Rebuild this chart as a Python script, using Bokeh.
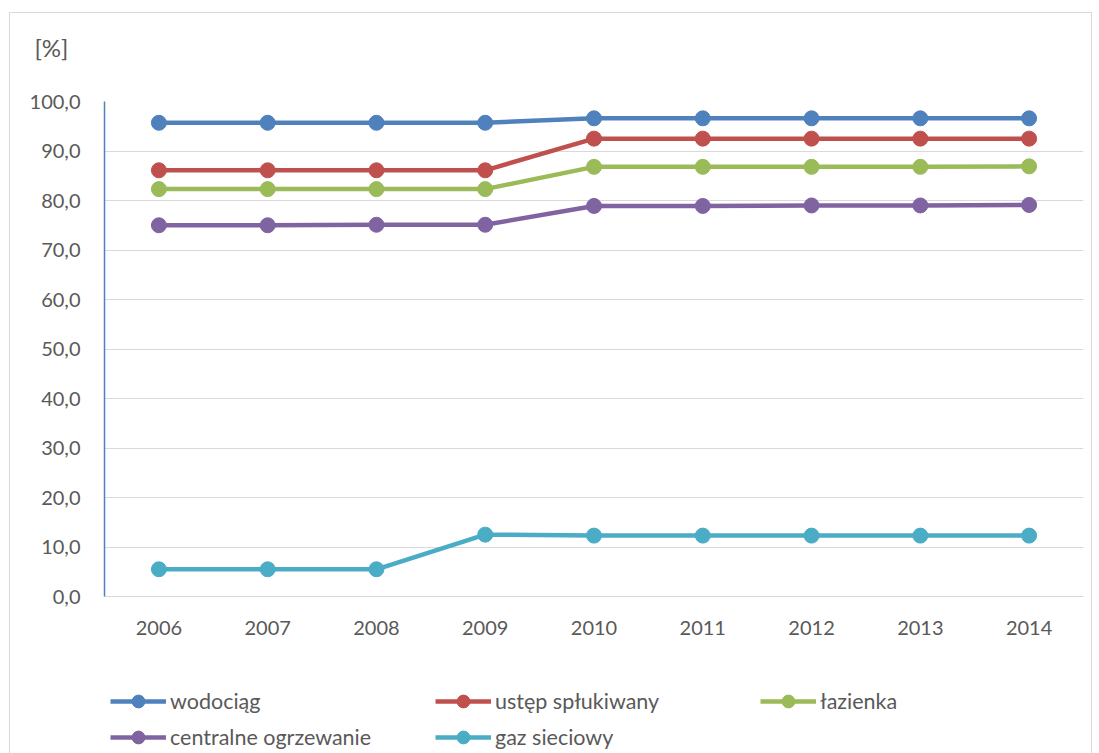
from bokeh.plotting import figure
from bokeh.models import (FactorRange, Range1d, FixedTicker, Legend, LegendItem,
                          Title)
from bokeh.embed import file_html
from bokeh.resources import INLINE

years = ["2006", "2007", "2008", "2009", "2010", "2011", "2012", "2013", "2014"]
wodociag = [95.7, 95.7, 95.7, 95.7, 96.6, 96.6, 96.6, 96.6, 96.6]
ustep = [86.1, 86.1, 86.1, 86.1, 92.5, 92.5, 92.5, 92.5, 92.5]
lazienka = [82.3, 82.3, 82.3, 82.3, 86.8, 86.8, 86.8, 86.8, 86.9]
centralne = [75.0, 75.0, 75.1, 75.1, 78.9, 78.9, 79.0, 79.0, 79.1]
gaz = [5.5, 5.5, 5.5, 12.5, 12.3, 12.3, 12.3, 12.3, 12.3]

series_names = ["wodociąg", "ustęp spłukiwany", "łazienka",
                "centralne ogrzewanie", "gaz sieciowy"]
series_values = [wodociag, ustep, lazienka, centralne, gaz]
colors = ["#4F81BD", "#C0504D", "#9BBB59", "#8064A2", "#4BACC6"]

y_ticks = [0, 10, 20, 30, 40, 50, 60, 70, 80, 90, 100]
y_tick_labels = ["0,0", "10,0", "20,0", "30,0", "40,0", "50,0",
                 "60,0", "70,0", "80,0", "90,0", "100,0"]
unit_label = "[%]"

FONT = "Lato"
TXT = "#595959"

# layout: the data area (0..100) is 495 px tall; the frame continues below it
# to hold the category labels and the legend
PLOT_H = 495
FRAME_H = 652
y_start = -(FRAME_H - PLOT_H) * 100.0 / PLOT_H

p = figure(frame_width=979, frame_height=FRAME_H, x_range=FactorRange(*years),
           y_range=Range1d(y_start, 100), output_backend="svg",
           toolbar_location=None,
           min_border_left=94, min_border_right=8,
           min_border_top=88, min_border_bottom=0)
p.styles = {"border": "1px solid #d9d9d9", "border-bottom": "none",
            "margin-left": "9px", "margin-top": "12px"}
p.outline_line_color = None
p.background_fill_color = "white"

items = []
for name, vals, col in zip(series_names, series_values, colors):
    r1 = p.line(years, vals, line_color=col, line_width=4.5)
    r2 = p.scatter(years, vals, fill_color=col, line_color=col, size=15)
    items.append(LegendItem(label=name, renderers=[r1, r2]))

p.yaxis.ticker = FixedTicker(ticks=y_ticks)
p.yaxis.bounds = (0, 100)
p.yaxis.major_label_overrides = {t: l for t, l in zip(y_ticks, y_tick_labels)}
p.yaxis.axis_line_color = "#4F81BD"
p.yaxis.axis_line_width = 1.5
p.yaxis.major_tick_line_color = None
p.yaxis.minor_tick_line_color = None
p.yaxis.major_label_standoff = 18
p.yaxis.major_label_text_font = FONT
p.yaxis.major_label_text_font_size = "20px"
p.yaxis.major_label_text_color = TXT

p.xaxis.fixed_location = 0
p.xaxis.axis_line_color = "#d9d9d9"
p.xaxis.major_tick_line_color = None
p.xaxis.minor_tick_line_color = None
p.xaxis.major_label_standoff = 18
p.xaxis.major_label_text_font = FONT
p.xaxis.major_label_text_font_size = "20px"
p.xaxis.major_label_text_color = TXT

p.xgrid.grid_line_color = None
p.ygrid.grid_line_color = "#d9d9d9"
p.ygrid.grid_line_width = 1

legend = Legend(items=items, orientation="horizontal", ncols=3,
                location=(6, 0), glyph_width=56, glyph_height=32,
                label_standoff=4, label_width=261, spacing=4,
                padding=0, margin=0, border_line_color=None,
                background_fill_alpha=0,
                label_text_font=FONT, label_text_font_size="21.5px",
                label_text_color=TXT, label_height=32)
p.add_layout(legend)

# second (empty) line keeps the unit label high above the frame
title = Title(text=unit_label + "\n", align="left", offset=-70, standoff=18,
              vertical_align="top",
              text_font=FONT, text_font_size="24px", text_color=TXT,
              text_font_style="normal")
p.add_layout(title, "above")

open("out.html", "w").write(file_html(p, INLINE))
